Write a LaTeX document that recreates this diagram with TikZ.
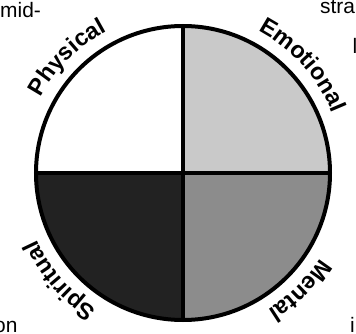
\documentclass[tikz,border=0pt]{standalone}
\usepackage{fontspec}
\setmainfont{Liberation Sans}
\usepackage{xcolor}
\usetikzlibrary{decorations.text}

\newcommand\lblfont{\bfseries\fontsize{23.5}{26}\selectfont}
\newcommand\fragfont{\fontsize{21}{24}\selectfont}
\definecolor{emofill}{HTML}{C9C9C9}
\definecolor{menfill}{HTML}{8C8C8C}
\definecolor{spifill}{HTML}{222222}

\begin{document}
\begin{tikzpicture}[
  x=1bp,y=1bp,
  ring/.style={draw=black,line width=4bp},
  cut/.style={draw=black,line width=3.5bp},
  frag/.style={inner sep=0pt,anchor=base west},
  arclbl/.style={decorate,decoration={text along path,text align=center,
      text={|\lblfont|#1}}}
]
\useasboundingbox (0,0) rectangle (356,334);
\coordinate (C) at (183,161);
% the four quarters
\fill[white]   (C) -- ++(180:147) arc[start angle=180,end angle=90,radius=147] -- cycle;
\fill[emofill] (C) -- ++(90:147)  arc[start angle=90,end angle=0,radius=147] -- cycle;
\fill[menfill] (C) -- ++(0:147)   arc[start angle=0,end angle=-90,radius=147] -- cycle;
\fill[spifill] (C) -- ++(-90:147) arc[start angle=-90,end angle=-180,radius=147] -- cycle;
% rim and cross
\draw[cut] (C) ++(-147,0) -- ++(294,0);
\draw[cut] (C) ++(0,-147) -- ++(0,294);
\draw[ring] (C) circle[radius=147];
% labels round the rim, clockwise
\path[arclbl=Physical]  (C) ++(165:161) arc[start angle=165,end angle=105,radius=161];
\path[arclbl=Emotional] (C) ++(72:161)  arc[start angle=72,end angle=12,radius=161];
\path[arclbl=Mental]    (C) ++(-15:161) arc[start angle=-15,end angle=-75,radius=161];
\path[arclbl=Spiritual] (C) ++(-109:161) arc[start angle=-109,end angle=-169,radius=161];
% bits of the page text round the figure
\node[frag] (mid)  at (0,317)     {\fragfont mid-};
\node[frag] (stra) at (320,321)   {\fragfont stra};
\node[frag] (ell)  at (352.5,281) {\fragfont l};
\node[frag] (on)   at (-6,2)      {\fragfont on};
\node[frag] (eye)  at (350,2)     {\fragfont i};
\end{tikzpicture}
\end{document}
